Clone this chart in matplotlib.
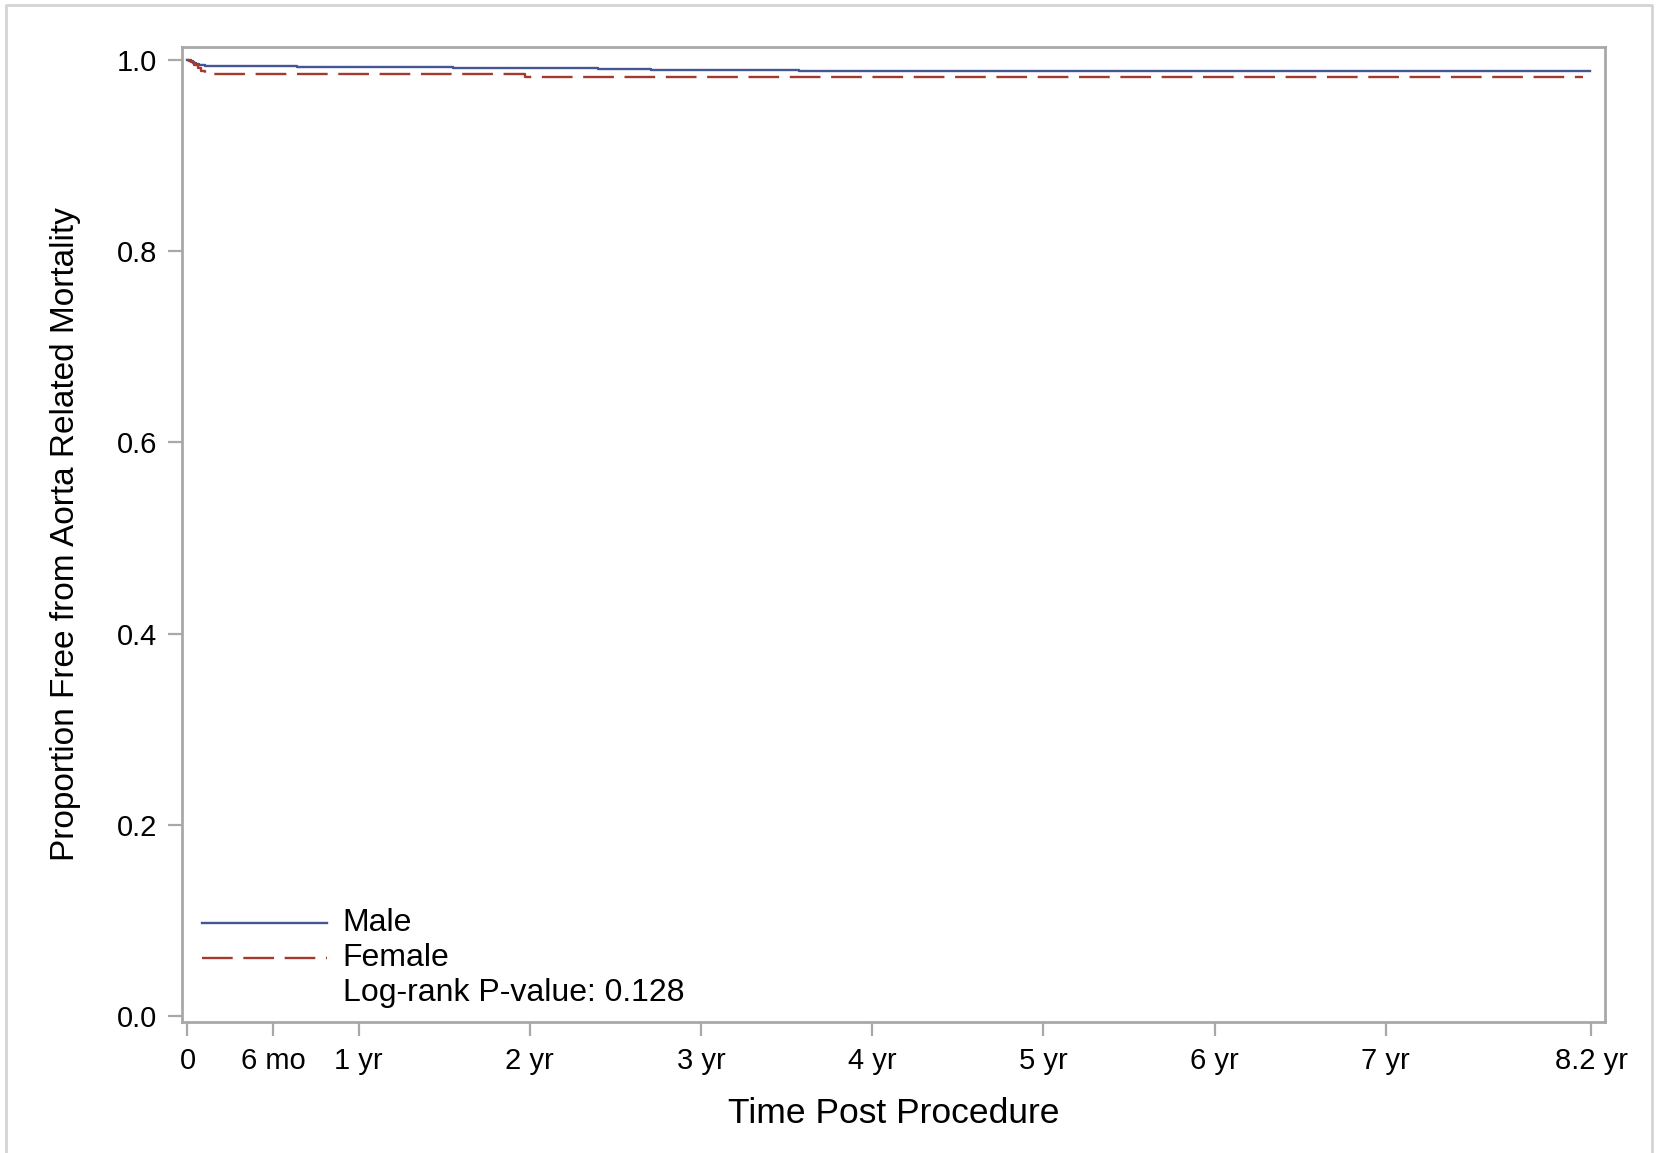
import matplotlib
matplotlib.use("Agg")
import matplotlib.pyplot as plt
from matplotlib.lines import Line2D

plt.rcParams['font.family'] = ['Liberation Sans', 'DejaVu Sans']

# Kaplan-Meier step data (time in years, survival proportion)
male_t = [0.0, 0.01, 0.03, 0.05, 0.07, 0.10, 0.64, 1.55, 2.40, 2.71, 2.88, 3.57, 8.19]
male_s = [1.000, 0.9985, 0.997, 0.9958, 0.995, 0.9938, 0.9928, 0.992, 0.991, 0.990, 0.9892, 0.9885, 0.9885]
female_t = [0.0, 0.02, 0.04, 0.06, 0.08, 0.10, 1.97, 8.15]
female_s = [1.000, 0.998, 0.995, 0.992, 0.989, 0.9853, 0.9825, 0.9825]

xtick_vals = [0, 0.5, 1, 2, 3, 4, 5, 6, 7, 8.2]
xtick_labels = ['0', '6 mo', '1 yr', '2 yr', '3 yr', '4 yr', '5 yr', '6 yr', '7 yr', '8.2 yr']
ytick_vals = [0.0, 0.2, 0.4, 0.6, 0.8, 1.0]
ytick_labels = ['0.0', '0.2', '0.4', '0.6', '0.8', '1.0']

male_color = '#445694'
female_color = '#A23A2E'
spine_color = '#a8a8a8'

W, H = 1661, 1153
fig = plt.figure(figsize=(W / 100, H / 100), dpi=100)
ax = fig.add_axes([182 / W, 1 - 1022 / H, (1605 - 182) / W, (1022 - 47) / H])

ax.step(male_t, male_s, where='post', color=male_color, lw=1.7)
ax.step(female_t, female_s, where='post', color=female_color, lw=1.7, dashes=(13, 4.5))

ax.set_xlim(-0.032, 8.28)
ax.set_ylim(-0.0063, 1.0136)
ax.set_xticks(xtick_vals)
ax.set_xticklabels(xtick_labels)
ax.set_yticks(ytick_vals)
ax.set_yticklabels(ytick_labels)
ax.tick_params(axis='both', labelsize=21, color=spine_color, width=1.6, length=10, pad=8)
for s in ax.spines.values():
    s.set_color(spine_color)
    s.set_linewidth(2)

ax.set_xlabel('Time Post Procedure', fontsize=25.5, labelpad=16)
ax.set_ylabel('Proportion Free from Aorta Related Mortality', fontsize=24, labelpad=26)

# legend-like annotation
ax.add_line(Line2D([0.014, 0.102], [0.1015, 0.1015], transform=ax.transAxes,
                   color=male_color, lw=1.7))
ax.add_line(Line2D([0.014, 0.102], [0.0656, 0.0656], transform=ax.transAxes,
                   color=female_color, lw=1.7, dashes=(13, 4.5)))
ax.text(0.113, 0.1015, 'Male', transform=ax.transAxes, fontsize=23, va='center', ha='left')
ax.text(0.113, 0.0656, 'Female', transform=ax.transAxes, fontsize=23, va='center', ha='left')
ax.text(0.113, 0.030, 'Log-rank P-value: 0.128', transform=ax.transAxes, fontsize=23,
        va='center', ha='left')

# outer frame
fig.add_artist(Line2D([6 / W, 6 / W, 1652 / W, 1652 / W], [0, 1 - 5 / H, 1 - 5 / H, 0],
                      transform=fig.transFigure, color='#d4d4d4', lw=2))

fig.savefig('out.png', dpi=100)
